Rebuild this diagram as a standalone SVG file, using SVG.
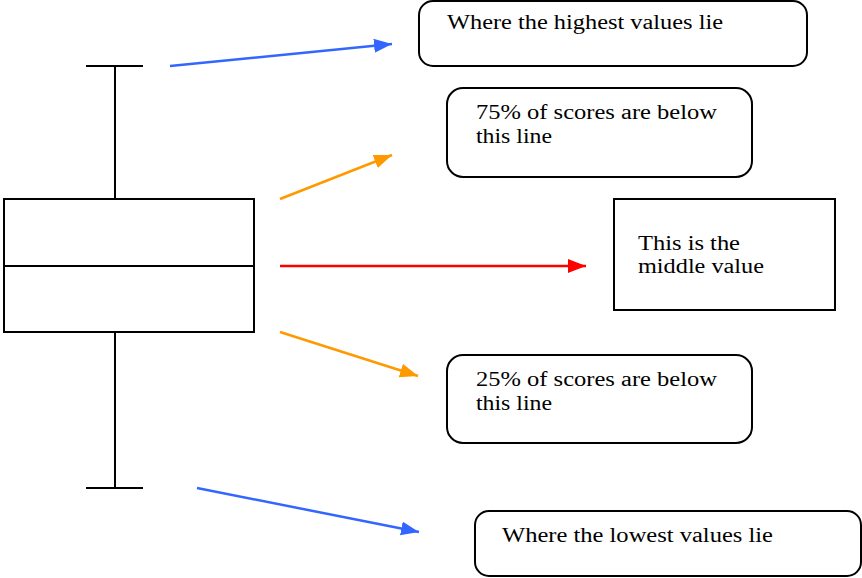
<svg xmlns="http://www.w3.org/2000/svg" width="862" height="578" viewBox="0 0 862 578">
<style>
.bp{fill:none;stroke:#000;stroke-width:2}
.box{fill:#fff;stroke:#000;stroke-width:2}
.t{font-family:"Liberation Serif","Times New Roman",serif;font-size:20px;fill:#000}
.blue{stroke:#3366FF;stroke-width:2.5;fill:none}
.orange{stroke:#FF9900;stroke-width:2.5;fill:none}
.red{stroke:#FF0000;stroke-width:2.5;fill:none}
</style>
<defs>
<marker id="ab" markerUnits="userSpaceOnUse" markerWidth="19" markerHeight="15" refX="18" refY="7" orient="auto"><path d="M0,0 L18,7 L0,14 z" fill="#3366FF"/></marker>
<marker id="ao" markerUnits="userSpaceOnUse" markerWidth="19" markerHeight="15" refX="18" refY="7" orient="auto"><path d="M0,0 L18,7 L0,14 z" fill="#FF9900"/></marker>
<marker id="ar" markerUnits="userSpaceOnUse" markerWidth="19" markerHeight="15" refX="18" refY="7" orient="auto"><path d="M0,0 L18,7 L0,14 z" fill="#FF0000"/></marker>
</defs>
<rect width="862" height="578" fill="#fff"/>
<g id="boxplot">
<line class="bp" x1="86" y1="66" x2="143" y2="66"/>
<line class="bp" x1="115" y1="66" x2="115" y2="199"/>
<rect class="bp" x="4" y="199" width="250" height="133"/>
<line class="bp" x1="4" y1="266" x2="254" y2="266"/>
<line class="bp" x1="115" y1="332" x2="115" y2="488"/>
<line class="bp" x1="86" y1="488" x2="143" y2="488"/>
</g>
<g id="connectors">
<line class="blue" x1="170" y1="66" x2="392" y2="44" marker-end="url(#ab)"/>
<line class="orange" x1="280" y1="199" x2="392" y2="155" marker-end="url(#ao)"/>
<line class="red" x1="280" y1="266" x2="586" y2="266" marker-end="url(#ar)"/>
<line class="orange" x1="280" y1="332" x2="418" y2="376" marker-end="url(#ao)"/>
<line class="blue" x1="197" y1="488" x2="419" y2="532" marker-end="url(#ab)"/>
</g>
<g id="highest">
<rect class="box" x="419" y="1" width="388" height="65" rx="14"/>
<text class="t" x="447" y="29" textLength="276" lengthAdjust="spacingAndGlyphs">Where the highest values lie</text>
</g>
<g id="q3">
<rect class="box" x="447" y="88" width="305" height="89" rx="16"/>
<text class="t" x="476" y="119" textLength="241" lengthAdjust="spacingAndGlyphs">75% of scores are below</text>
<text class="t" x="476" y="143" textLength="76" lengthAdjust="spacingAndGlyphs">this line</text>
</g>
<g id="median">
<rect class="box" x="614" y="199" width="221" height="111"/>
<text class="t" x="638" y="250" textLength="102" lengthAdjust="spacingAndGlyphs">This is the</text>
<text class="t" x="638" y="273" textLength="126" lengthAdjust="spacingAndGlyphs">middle value</text>
</g>
<g id="q1">
<rect class="box" x="447" y="355" width="305" height="88" rx="16"/>
<text class="t" x="476" y="386" textLength="241" lengthAdjust="spacingAndGlyphs">25% of scores are below</text>
<text class="t" x="476" y="410" textLength="76" lengthAdjust="spacingAndGlyphs">this line</text>
</g>
<g id="lowest">
<rect class="box" x="475" y="511" width="386" height="65" rx="14"/>
<text class="t" x="502" y="542" textLength="271" lengthAdjust="spacingAndGlyphs">Where the lowest values lie</text>
</g>
</svg>
